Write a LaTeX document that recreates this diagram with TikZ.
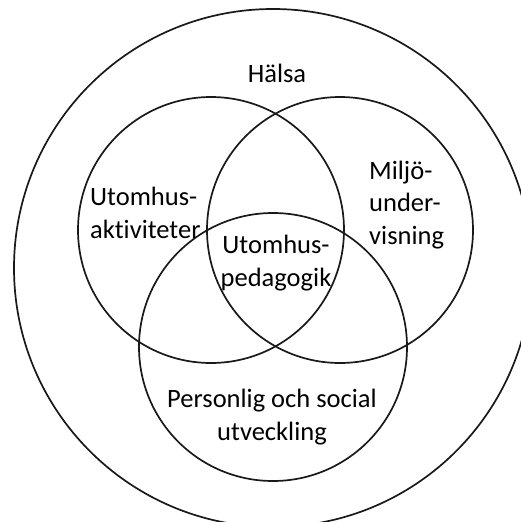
\documentclass[tikz,border=0pt]{standalone}
\usepackage{fontspec}
\setmainfont{Carlito}[Ligatures=NoCommon]
\usetikzlibrary{positioning}

\begin{document}
\begin{tikzpicture}[x=1pt,y=-1pt,
ring/.style={circle,draw=black!90,
  line width=1.7pt,inner sep=0pt,outer sep=0pt
},
word/.style={inner sep=0pt,
  font=\fontsize{26.5}{32.5}\selectfont
}]
\useasboundingbox (0,0) rectangle (521,522);
\clip (0,0) rectangle (521,522);

\node (health) [ring, minimum size=518pt] at (273,268) {};

\node (outdoor) [ring, minimum size=266pt] at (211,230) {};

\node (environ) [ring, minimum size=266pt] at (340,230) {};

\node (social) [ring, minimum size=268pt] at (273,347) {};

\node (t-health) [word] at (277,73) {Hälsa};

\node (t-outdoor) [word, align=left, anchor=west] at (90,213) {Utomhus-\\aktiviteter};

\node (t-environ) [word, align=left, anchor=west] at (369,205) {Miljö-\\under-\\visning};

\node (t-pedagogy) [word, align=center] at (276,263) {Utomhus-\\pedagogik};

\node (t-social) [word, align=center] at (272,417) {Personlig och social\\utveckling};
\end{tikzpicture}
\end{document}
